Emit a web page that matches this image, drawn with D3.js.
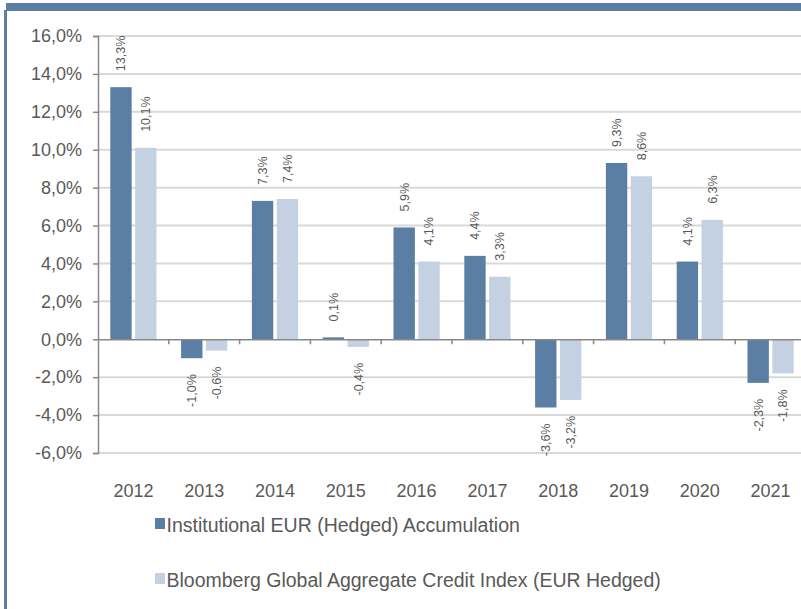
<!DOCTYPE html>
<html lang="en">
<head>
<meta charset="utf-8">
<title>Annual returns</title>
<script src="https://d3js.org/d3.v7.min.js"></script>
<style>
  body { margin: 0; background: #fff; }
  text { font-family: "Liberation Sans", Arial, sans-serif; fill: #595959; }
  .tick-label { font-size: 18px; }
  .val-label { font-size: 12.5px; }
  .legend-label { font-size: 19.5px; }
</style>
</head>
<body>
<script>
// data
const years = ["2012", "2013", "2014", "2015", "2016", "2017", "2018", "2019", "2020", "2021"];
const seriesNames = ["Institutional EUR (Hedged) Accumulation", "Bloomberg Global Aggregate Credit Index (EUR Hedged)"];
const fundValues = [13.3, -1.0, 7.3, 0.1, 5.9, 4.4, -3.6, 9.3, 4.1, -2.3];
const indexValues = [10.1, -0.6, 7.4, -0.4, 4.1, 3.3, -3.2, 8.6, 6.3, -1.8];
const yTicks = [-6, -4, -2, 0, 2, 4, 6, 8, 10, 12, 14, 16];
const colors = ["#5b7fa4", "#c3d1e3"];

const w = 801, h = 609;
const plotLeft = 98, plotTop = 36, plotBottom = 453;
const step = 70.8;

const fmt = v => v.toFixed(1).replace(".", ",") + "%";

const svg = d3.select("body").append("svg")
  .attr("width", w).attr("height", h);

// frame
svg.append("rect").attr("x", 6).attr("y", 3).attr("width", w - 6).attr("height", 8).attr("fill", "#5b7fa4");
svg.append("rect").attr("x", 4).attr("y", 10).attr("width", 3).attr("height", h - 10).attr("fill", "#5b7fa4");

const x = d3.scaleBand().domain(years).range([plotLeft, plotLeft + step * years.length]);
const x1 = d3.scaleBand().domain([0, 1]).range([12.3, step - 12.3]).paddingInner(0.14);
const y = d3.scaleLinear().domain([-6, 16]).range([plotBottom, plotTop]);

// gridlines
svg.append("g").selectAll("line").data(yTicks.filter(d => d !== 0)).join("line")
  .attr("x1", plotLeft).attr("x2", w)
  .attr("y1", d => y(d)).attr("y2", d => y(d))
  .attr("stroke", "#d9d9d9").attr("stroke-width", 2);

// y axis
const yAxis = d3.axisLeft(y).tickValues(yTicks).tickSize(5).tickPadding(11).tickFormat(d => fmt(d));
const gy = svg.append("g").attr("transform", `translate(${plotLeft},0)`).call(yAxis);
gy.attr("font-size", null).attr("font-family", null);
gy.select(".domain").attr("stroke", "#888").attr("stroke-width", 1.5);
gy.selectAll(".tick line").attr("stroke", "#888").attr("stroke-width", 1.5);
gy.selectAll(".tick text").attr("class", "tick-label").attr("fill", "#595959");

const rows = years.map((yr, i) => ({ year: yr, values: [fundValues[i], indexValues[i]] }));

// bars
const groups = svg.append("g").selectAll("g").data(rows).join("g")
  .attr("transform", d => `translate(${x(d.year)},0)`);

groups.selectAll("rect").data(d => d.values.map((v, k) => ({ v, k }))).join("rect")
  .attr("x", d => x1(d.k))
  .attr("width", x1.bandwidth())
  .attr("y", d => y(Math.max(0, d.v)))
  .attr("height", d => Math.abs(y(d.v) - y(0)))
  .attr("fill", d => colors[d.k]);

// value labels
groups.selectAll("text").data(d => d.values.map((v, k) => ({ v, k }))).join("text")
  .attr("class", "val-label")
  .attr("transform", d => {
    const cx = x1(d.k) + x1.bandwidth() / 2;
    const cy = d.v >= 0 ? y(d.v) - 16 : y(d.v) + 16;
    return `translate(${cx},${cy}) rotate(-90)`;
  })
  .attr("dy", "0.35em")
  .attr("text-anchor", d => d.v >= 0 ? "start" : "end")
  .text(d => fmt(d.v));

// zero axis with category ticks
const xAxis = d3.axisBottom(x).tickSize(0).tickFormat("");
const gx = svg.append("g").attr("transform", `translate(0,${y(0)})`).call(xAxis);
gx.select(".domain").attr("stroke", "#888").attr("stroke-width", 1.5);
svg.append("g").selectAll("line").data(years.slice(1)).join("line")
  .attr("x1", d => x(d)).attr("x2", d => x(d))
  .attr("y1", y(0)).attr("y2", y(0) + 5)
  .attr("stroke", "#888").attr("stroke-width", 1.5);

// year labels
svg.append("g").selectAll("text").data(years).join("text")
  .attr("class", "tick-label")
  .attr("x", d => x(d) + x.bandwidth() / 2)
  .attr("y", 497)
  .attr("text-anchor", "middle")
  .text(d => d);

// legend
const legend = svg.append("g").selectAll("g").data(seriesNames).join("g")
  .attr("transform", (d, i) => `translate(155,${518 + i * 55})`);
legend.append("rect").attr("width", 10).attr("height", 11).attr("fill", (d, i) => colors[i]);
legend.append("text").attr("class", "legend-label").attr("x", 11.5).attr("y", 14).text(d => d);
</script>
</body>
</html>
